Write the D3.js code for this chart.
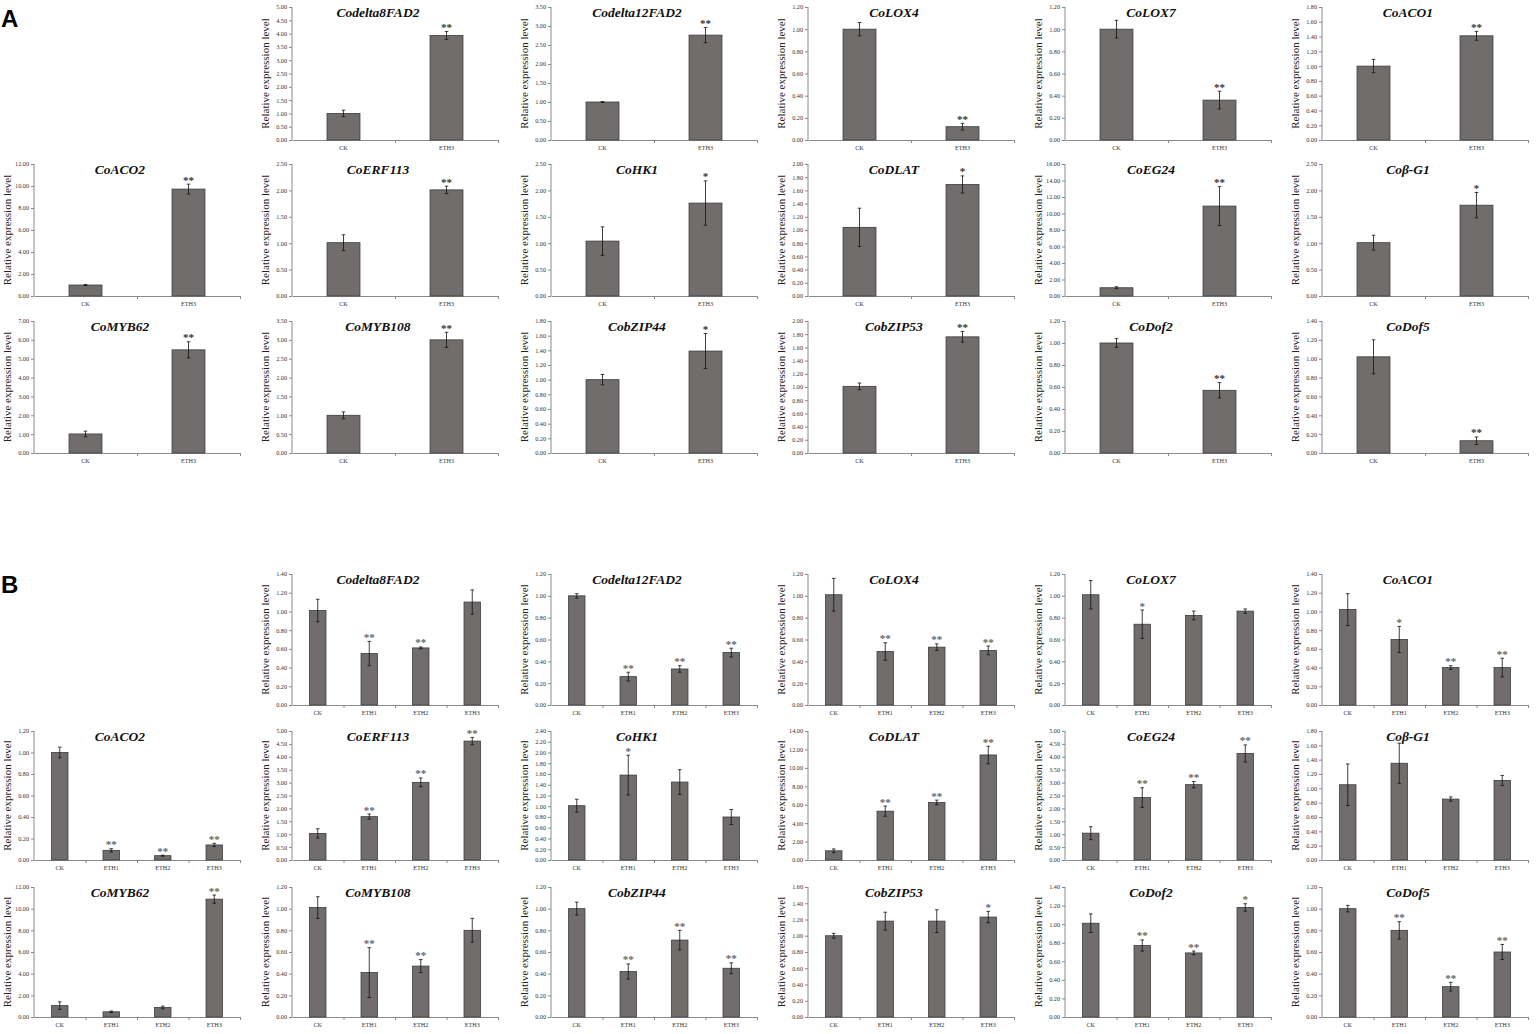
<!DOCTYPE html>
<html><head><meta charset="utf-8">
<script src="https://cdnjs.cloudflare.com/ajax/libs/d3/7.8.5/d3.min.js"></script>
<style>body{margin:0;background:#fff}svg{display:block}</style>
</head><body>
<script>
// ---------- DATA ----------
const genes = ["Codelta8FAD2","Codelta12FAD2","CoLOX4","CoLOX7","CoACO1",
  "CoACO2","CoERF113","CoHK1","CoDLAT","CoEG24","Coβ-G1",
  "CoMYB62","CoMYB108","CobZIP44","CobZIP53","CoDof2","CoDof5"];

const groupsA = ["CK","ETH3"];
const yMaxA  = [5.0,3.5,1.2,1.2,1.8, 12,2.5,2.5,2.0,16,2.5, 7,3.5,1.8,2.0,1.2,1.4];
const yStepA = [0.5,0.5,0.2,0.2,0.2, 2,0.5,0.5,0.2,2,0.5, 1,0.5,0.2,0.2,0.2,0.2];
const meanA = [[1.00,3.93],[1.00,2.76],[1.00,0.12],[1.00,0.36],[1.00,1.41],
  [1.00,9.72],[1.01,2.01],[1.04,1.76],[1.04,1.69],[1.00,10.90],[1.01,1.72],
  [1.01,5.47],[1.00,3.00],[1.00,1.39],[1.01,1.76],[1.00,0.57],[1.02,0.13]];
const errA = [[0.12,0.15],[0.01,0.20],[0.06,0.03],[0.08,0.08],[0.09,0.06],
  [0.05,0.45],[0.15,0.07],[0.27,0.42],[0.29,0.13],[0.12,2.35],[0.14,0.24],
  [0.15,0.43],[0.09,0.20],[0.07,0.24],[0.05,0.08],[0.04,0.07],[0.18,0.04]];
const sigA = [["","**"],["","**"],["","**"],["","**"],["","**"],
  ["","**"],["","**"],["","*"],["","*"],["","**"],["","*"],
  ["","**"],["","**"],["","*"],["","**"],["","**"],["","**"]];

const groupsB = ["CK","ETH1","ETH2","ETH3"];
const yMaxB  = [1.4,1.2,1.2,1.2,1.4, 1.2,5.0,2.4,14,5.0,1.8, 12,1.2,1.2,1.6,1.4,1.2];
const yStepB = [0.2,0.2,0.2,0.2,0.2, 0.2,0.5,0.2,2,0.5,0.2, 2,0.2,0.2,0.2,0.2,0.2];
const meanB = [[1.01,0.55,0.61,1.10],[1.00,0.26,0.33,0.48],[1.01,0.49,0.53,0.50],[1.01,0.74,0.82,0.86],[1.02,0.70,0.40,0.40],
  [1.00,0.09,0.04,0.14],[1.03,1.68,3.01,4.61],[1.01,1.58,1.45,0.80],[1.00,5.30,6.25,11.40],[1.04,2.42,2.92,4.13],[1.05,1.35,0.85,1.11],
  [1.05,0.48,0.88,10.88],[1.01,0.41,0.47,0.80],[1.00,0.42,0.71,0.45],[1.00,1.18,1.18,1.23],[1.01,0.77,0.69,1.18],[1.00,0.80,0.28,0.60]];
const errB = [[0.12,0.13,0.01,0.13],[0.02,0.04,0.03,0.04],[0.15,0.08,0.03,0.04],[0.13,0.13,0.04,0.02],[0.17,0.14,0.02,0.10],
  [0.05,0.015,0.005,0.015],[0.18,0.10,0.17,0.14],[0.12,0.37,0.23,0.14],[0.20,0.55,0.25,0.95],[0.25,0.38,0.12,0.33],[0.29,0.28,0.03,0.07],
  [0.35,0.07,0.12,0.38],[0.10,0.23,0.06,0.11],[0.06,0.07,0.09,0.05],[0.03,0.11,0.14,0.07],[0.10,0.06,0.02,0.04],[0.03,0.08,0.04,0.07]];
const sigB = [["","**","**",""],["","**","**","**"],["","**","**","**"],["","*","",""],["","*","**","**"],
  ["","**","**","**"],["","**","**","**"],["","*","",""],["","**","**","**"],["","**","**","**"],["","","",""],
  ["","","","**"],["","**","**",""],["","**","**","**"],["","","","*"],["","**","**","*"],["","**","**","**"]];

// ---------- LAYOUT ----------
const W = 1536, H = 1034;
const colX = [34, 292, 551, 808, 1065, 1322];
const plotW = 206;
const rowsA = [[7,140],[164,296],[321,453]];
const rowsB = [[574,705],[731,860],[887,1017]];
const serif = "'Liberation Serif','Times New Roman',serif";

const svg = d3.select("body").append("svg").attr("width", W).attr("height", H);

function cell(i){
  if (i < 5) return {row:0, col:i+1};
  const k = i - 5;
  return {row: 1 + Math.floor(k/6), col: k % 6};
}

function drawPanel(groups, yMax, yStep, mean, err, sig, rows, starColor){
  genes.forEach((gene, i) => {
    const {row, col} = cell(i);
    const [top, bottom] = rows[row];
    const x0 = colX[col];
    const g = svg.append("g");
    const y = d3.scaleLinear().domain([0, yMax[i]]).range([bottom, top]);
    const x = d3.scaleBand().domain(groups).range([x0, x0 + plotW]);
    const xb = d3.scaleLinear().domain([0, groups.length]).range([x0, x0 + plotW]);
    const bw = x.bandwidth() * 0.32;

    // y axis
    const ticks = d3.range(0, yMax[i] + yStep[i]/2, yStep[i]);
    const ya = g.append("g").attr("transform", `translate(${x0},0)`)
      .call(d3.axisLeft(y).tickValues(ticks).tickFormat(d3.format(".2f")).tickSize(3).tickPadding(2));
    ya.selectAll("path,line").attr("stroke", "#8a8a8a");
    ya.selectAll("text").attr("font-family", serif).attr("font-size", 6.2).attr("fill", "#333");
    ya.select(".domain").attr("d", `M0,${bottom}V${top}`);

    // x axis tick marks at boundaries
    const xt = g.append("g").attr("transform", `translate(0,${bottom})`)
      .call(d3.axisBottom(xb).tickValues(d3.range(1, groups.length + 1)).tickFormat("").tickSize(3).tickSizeOuter(0));
    xt.selectAll("path,line").attr("stroke", "#8a8a8a");
    const xl = g.append("g").attr("transform", `translate(0,${bottom})`)
      .call(d3.axisBottom(x).tickSize(0).tickPadding(6));
    xl.select(".domain").remove();
    xl.selectAll("text").attr("font-family", serif).attr("font-size", 6.2).attr("fill", "#333");

    // bars
    const data = groups.map((grp, j) => ({grp, m: mean[i][j], e: err[i][j], s: sig[i][j]}));
    g.selectAll("rect.bar").data(data).join("rect").attr("class", "bar")
      .attr("x", d => x(d.grp) + (x.bandwidth() - bw)/2)
      .attr("width", bw)
      .attr("y", d => y(d.m))
      .attr("height", d => y(0) - y(d.m))
      .attr("fill", "#716d6d").attr("stroke", "#3c3c3c").attr("stroke-width", 0.8);

    // error bars
    const cx = d => x(d.grp) + x.bandwidth()/2;
    g.selectAll("line.eb").data(data).join("line").attr("class", "eb")
      .attr("x1", cx).attr("x2", cx)
      .attr("y1", d => y(d.m + d.e)).attr("y2", d => y(Math.max(0, d.m - d.e)))
      .attr("stroke", "#111").attr("stroke-width", 0.8);
    ["top","bot"].forEach(k => {
      g.selectAll("line.cap" + k).data(data).join("line").attr("class", "cap" + k)
        .attr("x1", d => cx(d) - 1.8).attr("x2", d => cx(d) + 1.8)
        .attr("y1", d => y(k === "top" ? d.m + d.e : Math.max(0, d.m - d.e)))
        .attr("y2", d => y(k === "top" ? d.m + d.e : Math.max(0, d.m - d.e)))
        .attr("stroke", "#111").attr("stroke-width", 0.8);
    });

    // significance
    g.selectAll("text.sig").data(data.filter(d => d.s)).join("text").attr("class", "sig")
      .attr("x", cx).attr("y", d => y(d.m + d.e) - 0.5)
      .attr("text-anchor", "middle").attr("font-family", serif).attr("font-size", 11)
      .attr("font-weight", "bold").attr("fill", starColor).text(d => d.s);

    // title
    g.append("text").attr("x", x0 + 86).attr("y", top + 10)
      .attr("text-anchor", "middle").attr("font-family", serif).attr("font-size", 13.5)
      .attr("font-weight", "bold").attr("font-style", "italic").attr("fill", "#111").text(gene);

    // y label
    g.append("text").attr("transform", `translate(${x0 - 26},${(top + bottom)/2}) rotate(-90)`)
      .attr("text-anchor", "middle").attr("dominant-baseline", "middle")
      .attr("font-family", serif).attr("font-size", 11).attr("fill", "#222")
      .text("Relative expression level");
  });
}

drawPanel(groupsA, yMaxA, yStepA, meanA, errA, sigA, rowsA, "#333");
drawPanel(groupsB, yMaxB, yStepB, meanB, errB, sigB, rowsB, "#666");

svg.append("text").attr("x", 1).attr("y", 27).attr("font-family", "'Liberation Sans',Arial,sans-serif")
  .attr("font-size", 24).attr("font-weight", "bold").attr("fill", "#000").text("A");
svg.append("text").attr("x", 1).attr("y", 593).attr("font-family", "'Liberation Sans',Arial,sans-serif")
  .attr("font-size", 24).attr("font-weight", "bold").attr("fill", "#000").text("B");
</script>
</body></html>
